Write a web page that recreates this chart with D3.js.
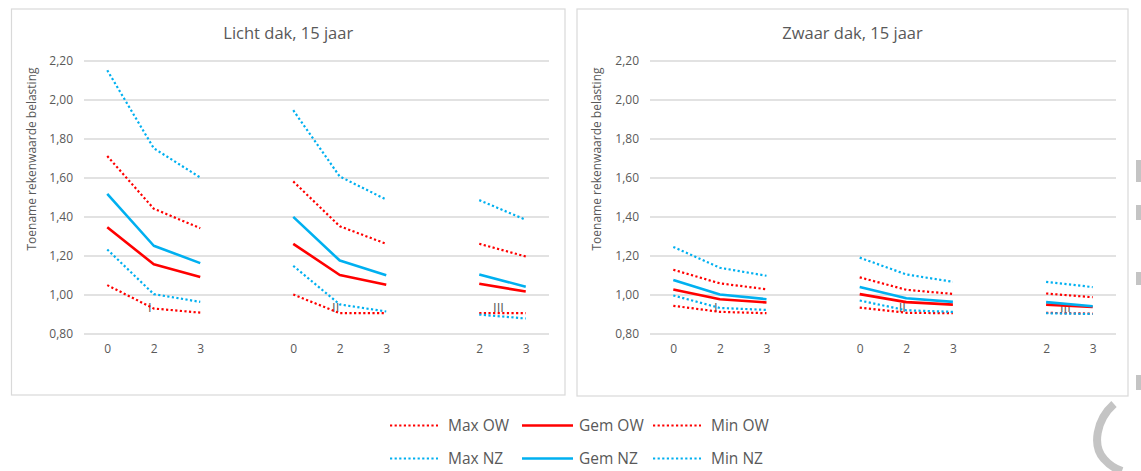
<!DOCTYPE html>
<html>
<head>
<meta charset="utf-8">
<script src="https://cdn.jsdelivr.net/npm/d3@7"></script>
<style>
  html, body { margin: 0; padding: 0; background: #ffffff; }
  svg { display: block; font-family: "Open Sans", "Noto Sans", sans-serif; }
</style>
</head>
<body>
<svg id="chart" width="1141" height="471"></svg>
<script>
// ---------------- DATA ----------------
const categories = ["0", "2", "3", "", "0", "2", "3", "", "2", "3"];
const groupOf    = [0, 0, 0, null, 1, 1, 1, null, 2, 2];
const groupNames = ["I", "II", "III"];
const yTicks = [0.80, 1.00, 1.20, 1.40, 1.60, 1.80, 2.00, 2.20];

const seriesNames = ["Max OW", "Gem OW", "Min OW", "Max NZ", "Gem NZ", "Min NZ"];

// Licht dak, 15 jaar
const lichtMaxOW = [1.71, 1.44, 1.34, null, 1.58, 1.35, 1.26, null, 1.26, 1.195];
const lichtGemOW = [1.345, 1.155, 1.09, null, 1.26, 1.10, 1.05, null, 1.055, 1.015];
const lichtMinOW = [1.048, 0.928, 0.907, null, 1.00, 0.904, 0.904, null, 0.904, 0.904];
const lichtMaxNZ = [2.15, 1.75, 1.60, null, 1.945, 1.605, 1.487, null, 1.484, 1.383];
const lichtGemNZ = [1.516, 1.25, 1.161, null, 1.398, 1.174, 1.099, null, 1.103, 1.04];
const lichtMinNZ = [1.231, 1.002, 0.962, null, 1.147, 0.949, 0.913, null, 0.897, 0.877];

// Zwaar dak, 15 jaar
const zwaarMaxOW = [1.127, 1.057, 1.027, null, 1.088, 1.024, 1.003, null, 1.005, 0.986];
const zwaarGemOW = [1.026, 0.976, 0.959, null, 1.002, 0.961, 0.948, null, 0.948, 0.936];
const zwaarMinOW = [0.942, 0.911, 0.904, null, 0.933, 0.906, 0.904, null, 0.906, 0.902];
const zwaarMaxNZ = [1.244, 1.137, 1.096, null, 1.189, 1.103, 1.065, null, 1.065, 1.038];
const zwaarGemNZ = [1.074, 1.000, 0.976, null, 1.039, 0.981, 0.962, null, 0.961, 0.940];
const zwaarMinNZ = [0.995, 0.931, 0.921, null, 0.969, 0.919, 0.911, null, 0.904, 0.900];

const panelTitles = ["Licht dak, 15 jaar", "Zwaar dak, 15 jaar"];
const yAxisTitle = "Toename rekenwaarde belasting";

// ---------------- STYLE ----------------
const RED = "#ff0000", BLUE = "#00b0f0", TXT = "#595959", GRID = "#d9d9d9";
const seriesStyle = {
  "Max OW": { color: RED,  dotted: true },
  "Gem OW": { color: RED,  dotted: false },
  "Min OW": { color: RED,  dotted: true },
  "Max NZ": { color: BLUE, dotted: true },
  "Gem NZ": { color: BLUE, dotted: false },
  "Min NZ": { color: BLUE, dotted: true }
};
function applyStyle(sel, name) {
  const s = seriesStyle[name];
  sel.attr("fill", "none")
     .attr("stroke", s.color)
     .attr("stroke-width", s.dotted ? 2.2 : 2.6)
     .attr("stroke-dasharray", s.dotted ? "2.2,2.4" : null)
     .attr("stroke-linejoin", "round");
}

const nl = d3.formatLocale({ decimal: ",", thousands: ".", grouping: [3], currency: ["€", ""] });
const fmt = nl.format(".2f");

const svg = d3.select("#chart");

const panels = [
  { title: panelTitles[0], box: [11.5, 9, 565, 395], plot: [84, 549],
    data: { "Max OW": lichtMaxOW, "Gem OW": lichtGemOW, "Min OW": lichtMinOW,
            "Max NZ": lichtMaxNZ, "Gem NZ": lichtGemNZ, "Min NZ": lichtMinNZ } },
  { title: panelTitles[1], box: [577, 9, 1128, 396], plot: [650, 1116],
    data: { "Max OW": zwaarMaxOW, "Gem OW": zwaarGemOW, "Min OW": zwaarMinOW,
            "Max NZ": zwaarMaxNZ, "Gem NZ": zwaarGemNZ, "Min NZ": zwaarMinNZ } }
];

const yTop = 60.5, yBottom = 333.5;

panels.forEach((p, pi) => {
  const g = svg.append("g");
  const [bx0, by0, bx1, by1] = p.box;
  g.append("rect").attr("x", bx0).attr("y", by0)
    .attr("width", bx1 - bx0).attr("height", by1 - by0)
    .attr("fill", "#fff").attr("stroke", GRID).attr("stroke-width", 1.2);

  const x = d3.scalePoint().domain(d3.range(categories.length))
    .range(p.plot).padding(0.5);
  const y = d3.scaleLinear().domain([0.8, 2.2]).range([yBottom, yTop]);

  // gridlines + y labels
  const yAxis = g.append("g").attr("transform", `translate(${p.plot[0]},0)`)
    .call(d3.axisLeft(y).tickValues(yTicks).tickFormat(fmt)
      .tickSize(-(p.plot[1] - p.plot[0])).tickPadding(11));
  yAxis.select(".domain").remove();
  yAxis.selectAll(".tick line").attr("stroke", GRID).attr("stroke-width", 1.5);
  yAxis.selectAll(".tick text").attr("fill", TXT).attr("font-size", "12px")
    .attr("font-family", "'Open Sans', sans-serif");

  // x labels
  const xAxis = g.append("g").attr("transform", `translate(0,${yBottom})`)
    .call(d3.axisBottom(x).tickFormat(i => categories[i]).tickSize(0).tickPadding(11));
  xAxis.select(".domain").remove();
  xAxis.selectAll(".tick text").attr("fill", TXT).attr("font-size", "12px")
    .attr("font-family", "'Open Sans', sans-serif");

  // group labels (I, II, III)
  groupNames.forEach((name, gi) => {
    const idx = groupOf.map((v, i) => v === gi ? i : null).filter(v => v !== null);
    const cx = d3.mean(idx.map(i => x(i)));
    g.append("text").attr("x", cx - 4).attr("y", 312)
      .attr("text-anchor", "middle").attr("fill", TXT)
      .attr("font-size", "13px").attr("font-family", "'Open Sans', sans-serif")
      .text(name);
  });

  // series lines
  const line = d3.line().defined(d => d.v != null).x(d => x(d.i)).y(d => y(d.v));
  seriesNames.forEach(name => {
    const pts = p.data[name].map((v, i) => ({ i, v }));
    g.append("path").datum(pts).attr("d", line).call(applyStyle, name);
  });

  // title
  g.append("text").attr("x", (bx0 + bx1) / 2).attr("y", 39)
    .attr("text-anchor", "middle").attr("fill", TXT)
    .attr("font-size", "16.5px").text(p.title);

  // y axis title
  const ty = 159, tx = bx0 + 20;
  g.append("text").attr("transform", `translate(${tx},${ty}) rotate(-90)`)
    .attr("text-anchor", "middle").attr("dy", "0.35em").attr("fill", TXT)
    .attr("font-size", "12px").text(yAxisTitle);
});

// ---------------- LEGEND ----------------
const legendRows = [["Max OW", "Gem OW", "Min OW"], ["Max NZ", "Gem NZ", "Min NZ"]];
const legendRowY = [425.5, 458.5];
const legendColX = [390, 522, 653];
const sampleLen = [48, 51, 48];
const legend = svg.append("g");
legendRows.forEach((row, r) => {
  row.forEach((name, c) => {
    const x0 = legendColX[c], yy = legendRowY[r];
    legend.append("line").attr("x1", x0).attr("x2", x0 + sampleLen[c])
      .attr("y1", yy).attr("y2", yy).call(applyStyle, name);
    legend.append("text").attr("x", x0 + sampleLen[c] + (c === 1 ? 6 : 10)).attr("y", yy)
      .attr("dy", "0.35em").attr("fill", TXT).attr("font-size", "15.5px").text(name);
  });
});

// ---------------- page artefacts at the right edge ----------------
const deco = svg.append("g").attr("fill", "#c4c4c4");
[[160, 22], [205, 15], [272, 13], [375, 15]].forEach(([yy, h]) =>
  deco.append("rect").attr("x", 1136).attr("y", yy).attr("width", 6).attr("height", h));
svg.append("path")
  .attr("d", "M1114,404 C1096,420 1092,446 1104,459 C1110,466 1116,469 1122,471")
  .attr("fill", "none").attr("stroke", "#c4c4c4").attr("stroke-width", 8);
</script>
</body>
</html>
